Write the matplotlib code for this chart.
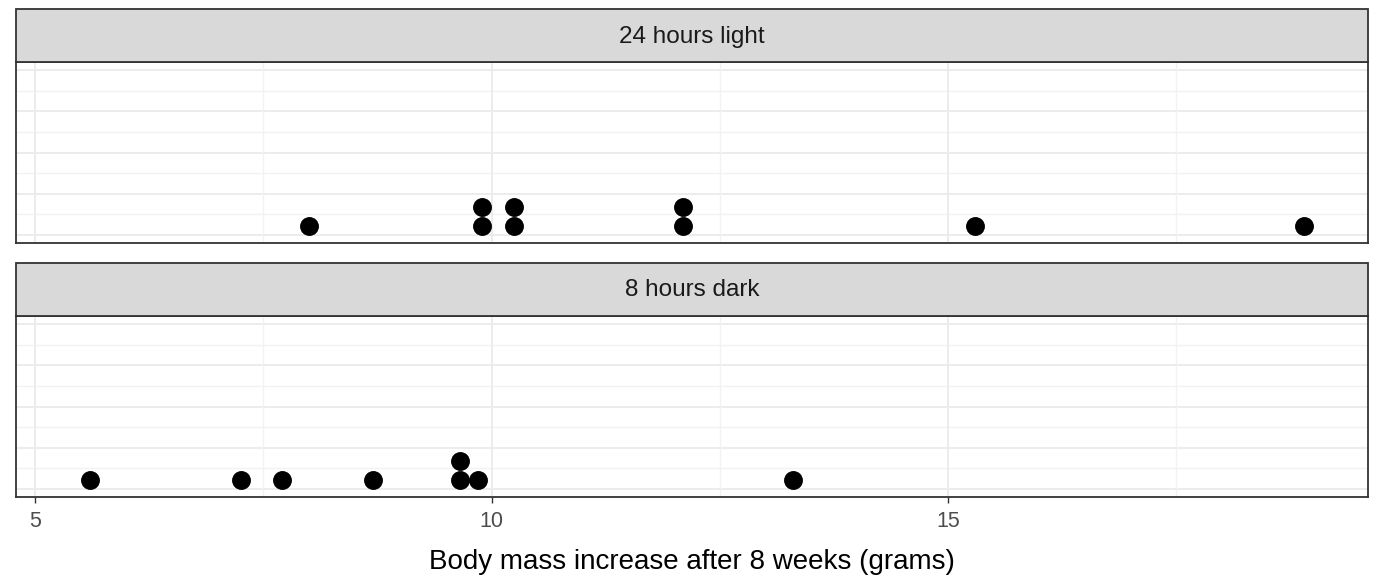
import matplotlib.pyplot as plt
from matplotlib.patches import Rectangle
from collections import Counter

# data (grams)
panels = ["24 hours light", "8 hours dark"]
light_values = [8.0, 9.9, 9.9, 10.25, 10.25, 12.1, 12.1, 15.3, 18.9]
dark_values = [5.6, 7.25, 7.7, 8.7, 9.65, 9.65, 9.85, 13.3]
x_ticks = [5, 10, 15]
x_label = "Body mass increase after 8 weeks (grams)"

W, H = 1386, 577
fig = plt.figure(figsize=(W / 100, H / 100), dpi=100)
plt.rcParams['font.family'] = ['Liberation Sans', 'DejaVu Sans']

left, right = 16, 1368
panel_boxes = [(62, 243), (316, 497)]   # top, bottom in pixels
strip_h = 53
step = 0.115


def fx(px):
    return px / W


def fy(py):
    return 1 - py / H


def draw_panel(ax, values):
    counts = Counter()
    xs, ys = [], []
    for v in values:
        xs.append(v)
        ys.append(0.052 + counts[v] * step)
        counts[v] += 1
    ax.scatter(xs, ys, s=185, color="black", zorder=3, linewidths=0)
    ax.set_xlim(4.79, 19.6)
    ax.set_ylim(-0.05, 1.05)
    for y in [0, 0.25, 0.5, 0.75, 1.0]:
        ax.axhline(y, color="#ebebeb", lw=1.3, zorder=1)
    for y in [0.125, 0.375, 0.625, 0.875]:
        ax.axhline(y, color="#f2f2f2", lw=1.0, zorder=1)
    for x in x_ticks:
        ax.axvline(x, color="#ebebeb", lw=1.3, zorder=1)
    for x in [7.5, 12.5, 17.5]:
        ax.axvline(x, color="#f2f2f2", lw=1.0, zorder=1)
    ax.set_yticks([])
    for s in ax.spines.values():
        s.set_color("#333333")
        s.set_linewidth(1.3)


for i, (name, vals) in enumerate(zip(panels, [light_values, dark_values])):
    top, bot = panel_boxes[i]
    ax = fig.add_axes([fx(left), fy(bot), fx(right - left), (bot - top) / H])
    draw_panel(ax, vals)
    if i == 0:
        ax.set_xticks([])
    else:
        ax.set_xticks(x_ticks)
        ax.tick_params(axis="x", length=4, width=1, color="#333333",
                       labelsize=15.5, labelcolor="#4d4d4d", pad=6)
        ax.set_xlabel(x_label, fontsize=20, color="black", va="center")
        ax.xaxis.set_label_coords(0.5, -(562 - bot) / (bot - top))
    # strip
    fig.patches.append(Rectangle((fx(left), fy(top)), fx(right - left), strip_h / H,
                                 transform=fig.transFigure, facecolor="#d9d9d9",
                                 edgecolor="#333333", lw=1.3, zorder=0))
    fig.text(fx((left + right) / 2), fy(top - strip_h / 2 + 1), name,
             ha="center", va="center", fontsize=17.5, color="#1a1a1a")

fig.savefig("out.png", dpi=100)
